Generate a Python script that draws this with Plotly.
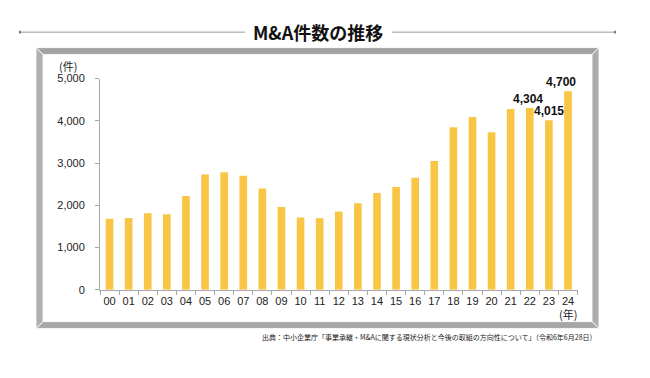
import plotly.graph_objects as go

W, H = 650, 378

years = ["00", "01", "02", "03", "04", "05", "06", "07", "08", "09", "10", "11", "12",
         "13", "14", "15", "16", "17", "18", "19", "20", "21", "22", "23", "24"]
counts = [1680, 1700, 1810, 1790, 2220, 2730, 2780, 2700, 2400, 1960, 1710, 1690, 1850,
          2050, 2290, 2430, 2650, 3050, 3850, 4090, 3730, 4280, 4304, 4015, 4700]
label_years = ["22", "23", "24"]
label_texts = ["4,304", "4,015", "4,700"]
label_xshift = [-2, 0, -7]

y_ticks = [0, 1000, 2000, 3000, 4000, 5000]
y_ticktext = ["0", "1,000", "2,000", "3,000", "4,000", "5,000"]

title_text = "M&A件数の推移"
source_text = "出典：中小企業庁「事業承継・M&Aに関する現状分析と今後の取組の方向性について」（令和6年6月28日）"

BAR = "#F9C545"
GRAY = "#a8a8a8"
FONT = "Liberation Sans, Arial, sans-serif"
CJK = "Noto Sans CJK JP, sans-serif"


def px(x):
    return x / W


def py(y):
    return 1 - y / H


fig = go.Figure()
fig.add_trace(go.Bar(x=years, y=counts, marker=dict(color=BAR, line=dict(width=0)),
                     hoverinfo="x+y"))

shapes = []
# picture-frame border
ox0, ox1, oy0, oy1 = 36, 599, 43, 333
t = 7
ix0, ix1, iy0, iy1 = ox0 + t, ox1 - t, oy0 + t, oy1 - t


def poly(pts, color):
    d = "M " + " L ".join(f"{px(a):.5f},{py(b):.5f}" for a, b in pts) + " Z"
    return dict(type="path", xref="paper", yref="paper", path=d,
                fillcolor=color, line=dict(color="white", width=0.8), layer="above")


shapes.append(poly([(ox0, oy0), (ox1, oy0), (ix1, iy0), (ix0, iy0)], "#a2a2a2"))
shapes.append(poly([(ox1, oy0), (ox1, oy1), (ix1, iy1), (ix1, iy0)], "#adadad"))
shapes.append(poly([(ox0, oy1), (ox1, oy1), (ix1, iy1), (ix0, iy1)], "#a6a6a6"))
shapes.append(poly([(ox0, oy0), (ix0, iy0), (ix0, iy1), (ox0, oy1)], "#b0b0b0"))

# title rule lines
for x0, x1 in [(20, 245), (392, 615)]:
    shapes.append(dict(type="line", xref="paper", yref="paper", x0=px(x0), x1=px(x1),
                       y0=py(27), y1=py(27), line=dict(color="#9a9a9a", width=1)))
for xx in (20, 615):
    shapes.append(dict(type="line", xref="paper", yref="paper", x0=px(xx), x1=px(xx),
                       y0=py(25.5), y1=py(28.5), line=dict(color="#555", width=1.5)))

annotations = [
    dict(text=f"<b>{title_text}</b>", x=px(318), y=py(27), xref="paper", yref="paper",
         showarrow=False, xanchor="center", yanchor="middle",
         font=dict(family=CJK, size=18, color="#111")),
    dict(text=source_text, x=px(599), y=py(342), xref="paper", yref="paper",
         showarrow=False, xanchor="right", yanchor="middle",
         font=dict(family=CJK, size=7, color="#222")),
    dict(text="(件)", x=px(68), y=py(62), xref="paper", yref="paper",
         showarrow=False, xanchor="center", yanchor="middle",
         font=dict(family=CJK, size=11, color="#222")),
    dict(text="(年)", x=px(568), y=py(308), xref="paper", yref="paper",
         showarrow=False, xanchor="center", yanchor="top",
         font=dict(family=CJK, size=11, color="#222")),
]
for yr, txt, xs in zip(label_years, label_texts, label_xshift):
    annotations.append(dict(text=f"<b>{txt}</b>", x=yr, y=counts[years.index(yr)],
                            xref="x", yref="y", showarrow=False, xanchor="center",
                            yanchor="bottom", yshift=0, xshift=xs,
                            font=dict(family=FONT, size=12, color="#111")))

fig.update_layout(
    width=W, height=H, margin=dict(l=0, r=0, t=0, b=0),
    paper_bgcolor="white", plot_bgcolor="white", showlegend=False,
    bargap=0.6, shapes=shapes, annotations=annotations,
    xaxis=dict(domain=[px(100), px(578)], type="category", showgrid=False,
               showline=True, linecolor=GRAY, linewidth=1, ticks="outside",
               tickson="boundaries", ticklen=4, tickcolor=GRAY, tickangle=0,
               ticklabelstandoff=1,
               tickfont=dict(family=FONT, size=11, color="#222"), zeroline=False),
    yaxis=dict(domain=[py(293), py(75)], range=[0, 5000], tickvals=y_ticks,
               ticktext=y_ticktext, showgrid=False, showline=True, linecolor=GRAY,
               linewidth=1, ticks="outside", ticklen=4, tickcolor=GRAY,
               ticklabelstandoff=8, zeroline=False,
               tickfont=dict(family=FONT, size=11, color="#222")),
)

fig.write_html("out.html", config={"displayModeBar": False},
               post_script="document.body.style.margin='0';"
                           "document.body.style.overflow='hidden';")
